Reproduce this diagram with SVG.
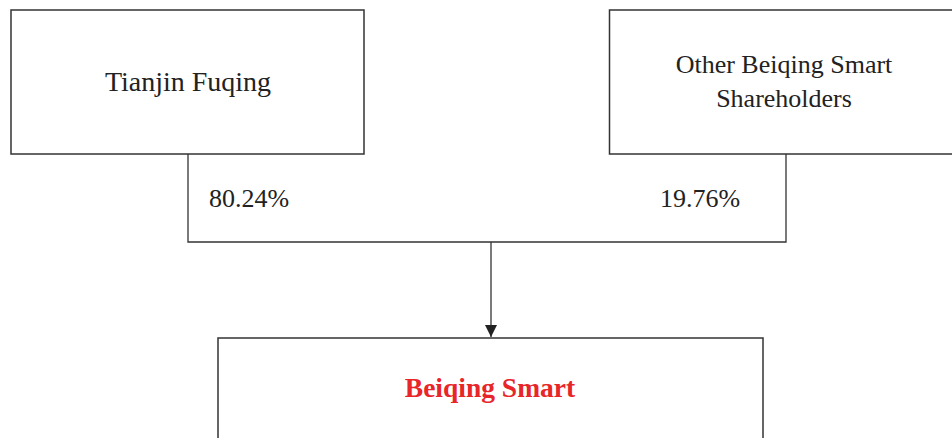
<svg xmlns="http://www.w3.org/2000/svg" width="952" height="438" viewBox="0 0 952 438">
<defs>
<style>
.box{fill:#fff;stroke:#333;stroke-width:1.5}
.t{font-family:"Liberation Serif","Times New Roman",serif;font-size:26px;fill:#222;text-anchor:middle}
.p{font-family:"Liberation Serif","Times New Roman",serif;font-size:26px;fill:#222}
.red{font-family:"Liberation Serif","Times New Roman",serif;font-size:27.5px;font-weight:bold;fill:#e8262a;text-anchor:middle}
.ln{fill:none;stroke:#333;stroke-width:1.3}
</style>
<marker id="arr" viewBox="0 0 12 12" refX="12" refY="6" markerWidth="12" markerHeight="12" markerUnits="userSpaceOnUse" orient="auto">
<path d="M0,0 L12,6 L0,12 Z" fill="#222"/>
</marker>
</defs>
<rect width="952" height="438" fill="#fff"/>
<g id="connectors">
<path class="ln" d="M188,154 V242 H786 V154"/>
<path class="ln" d="M491,242 V337" marker-end="url(#arr)"/>
<text class="p" x="209" y="207">80.24%</text>
<text class="p" x="660" y="207">19.76%</text>
</g>
<g id="tianjin">
<rect class="box" x="11" y="10" width="353" height="144"/>
<text class="t" x="188" y="91" style="font-size:28px">Tianjin Fuqing</text>
</g>
<g id="other">
<rect class="box" x="609.5" y="10" width="345" height="144"/>
<text class="t" x="784" y="73">Other Beiqing Smart</text>
<text class="t" x="784" y="107">Shareholders</text>
</g>
<g id="beiqing">
<rect class="box" x="218" y="338" width="545" height="110"/>
<text class="red" x="490" y="397">Beiqing Smart</text>
</g>
</svg>
